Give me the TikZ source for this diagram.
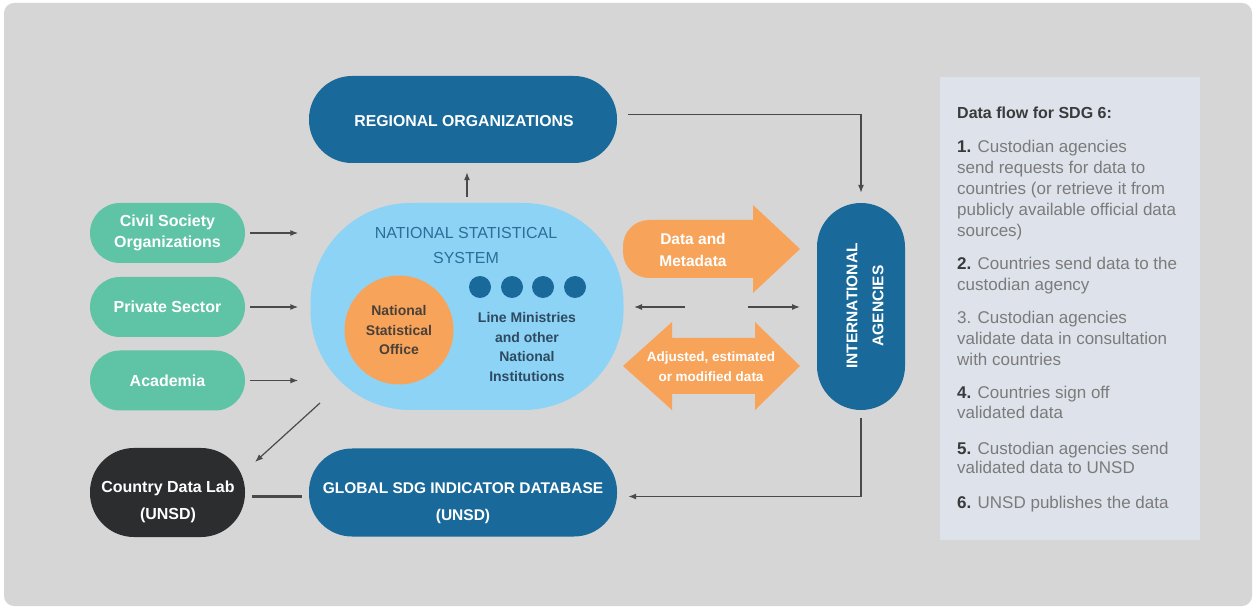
\documentclass[tikz,border=0pt]{standalone}
\usepackage{fontspec}
\setmainfont{Liberation Sans}
\usetikzlibrary{arrows.meta}
\definecolor{bgc}{HTML}{D6D6D6}
\definecolor{dblue}{HTML}{19699A}
\definecolor{sgreen}{HTML}{5FC3A6}
\definecolor{lblue}{HTML}{8DD3F5}
\definecolor{orng}{HTML}{F7A45A}
\definecolor{blk}{HTML}{2B2D2F}
\definecolor{panelc}{HTML}{DEE3EB}
\definecolor{linec}{HTML}{4A4A4A}
\definecolor{nsstext}{HTML}{2B6E9A}
\definecolor{ministext}{HTML}{2E4A60}
\definecolor{nsotext}{HTML}{4A4038}
\definecolor{ptext}{HTML}{7B7B7B}
\definecolor{pdark}{HTML}{3A3A3A}
\newcommand\numb[1]{\textbf{\color{pdark}#1}}
\begin{document}
\begin{tikzpicture}[x=1pt,y=-1pt,
 pill/.style={inner sep=0pt, text=white, align=center, font=\bfseries\fontsize{15.8}{19}\selectfont},
 arr/.style={draw=linec, line width=1.2pt, -{Latex[length=8pt,width=6pt]}},
 ptxt/.style={anchor=base west, inner sep=0pt, text=ptext, font=\fontsize{17}{20}\selectfont},
 wtxt/.style={inner sep=0pt, text=white, align=center},
]
\useasboundingbox (0,0) rectangle (1256,609);
\fill[white] (0,0) rectangle (1256,609);
\fill[bgc, rounded corners=10pt] (4,3) rectangle (1252,606);

% panel
\node[fill=panelc, minimum width=260pt, minimum height=463pt, inner sep=0pt] (pan) at (1070,308.5) {};

% top / bottom blue pills
\node[fill=dblue, rounded corners=43pt, minimum width=308pt, minimum height=87pt, inner sep=0pt] (reg) at (463,119.5) {};
\node[wtxt, font=\bfseries\fontsize{15.8}{19}\selectfont] (regt) at (464,121.5) {REGIONAL ORGANIZATIONS};
\node[fill=dblue, rounded corners=43pt, minimum width=308pt, minimum height=88pt, inner sep=0pt] (gdb) at (463,492.5) {};
\node[wtxt, font=\bfseries\fontsize{15.5}{27}\selectfont] (gdbt) at (463,503) {GLOBAL SDG INDICATOR DATABASE\\(UNSD)};

% green pills
\node[pill, fill=sgreen, rounded corners=30pt, minimum width=155pt, minimum height=60pt, font=\bfseries\fontsize{16}{21}\selectfont] (cso) at (167.5,233) {Civil Society\\Organizations};
\node[pill, fill=sgreen, rounded corners=30pt, minimum width=155pt, minimum height=60pt, font=\bfseries\fontsize{16}{21}\selectfont] (ps) at (167.5,307) {Private Sector};
\node[pill, fill=sgreen, rounded corners=30pt, minimum width=155pt, minimum height=60pt, font=\bfseries\fontsize{16}{21}\selectfont] (ac) at (167.5,380.5) {Academia};

% country data lab
\node[fill=blk, rounded corners=44pt, minimum width=155pt, minimum height=89pt, inner sep=0pt] (cdl) at (167.5,492.5) {};
\node[wtxt, font=\bfseries\fontsize{16}{27}\selectfont] (cdlt) at (168,502) {Country Data Lab\\(UNSD)};

% national statistical system
\node[fill=lblue, rounded corners=100pt, minimum width=313pt, minimum height=207pt, inner sep=0pt] (nss) at (467,306.5) {};
\node[inner sep=0pt, text=nsstext, align=center, font=\fontsize{16}{25}\selectfont] (nsst) at (466,245) {NATIONAL STATISTICAL\\SYSTEM};
\node[circle, fill=orng, minimum size=109pt, inner sep=0pt, align=center, text=nsotext, font=\bfseries\fontsize{14}{19.5}\selectfont] (nso) at (399,330) {National\\Statistical\\Office};
\foreach \i/\x in {1/480,2/512,3/543,4/575}
  \node[circle, fill=dblue, minimum size=22pt, inner sep=0pt] (dot\i) at (\x,287) {};
\node[inner sep=0pt, text=ministext, align=center, font=\bfseries\fontsize{14}{19.5}\selectfont] (lm) at (527,347) {Line Ministries\\and other\\National\\Institutions};

% international agencies
\node[fill=dblue, rounded corners=44pt, minimum width=88pt, minimum height=207pt, inner sep=0pt] (intl) at (861,306.5) {};
\node[wtxt, rotate=90, font=\bfseries\fontsize{15.5}{26}\selectfont] (intlt) at (865,306) {INTERNATIONAL\\AGENCIES};

% orange block arrows
\fill[orng] [rounded corners=26pt] (690,278) -- (623,278) -- (623,220) -- (690,220) [sharp corners] -- (753,220) -- (753,205) -- (800,249) -- (753,293) -- (753,278) -- cycle;
\node[wtxt, font=\bfseries\fontsize{15.5}{22}\selectfont] (dm) at (693,250) {Data and\\Metadata};
\fill[orng] (623,366) -- (672,322) -- (672,338) -- (755,338) -- (755,322) -- (800,366) -- (755,410) -- (755,394) -- (672,394) -- (672,410) -- cycle;
\node[wtxt, font=\bfseries\fontsize{13.5}{20}\selectfont] (adj) at (711,367) {Adjusted, estimated\\or modified data};

% connectors
\draw[arr, shorten <=6pt, shorten >=9pt] (nss.north) -- (nss.north |- reg.south);
\draw[arr, shorten <=5pt, shorten >=12pt] (cso.east) -- (cso.east -| nss.west);
\draw[arr, shorten <=5pt, shorten >=12pt] (ps.east) -- (ps.east -| nss.west);
\draw[arr, shorten <=5pt, shorten >=12pt] (ac.east) -- (ac.east -| nss.west);
\draw[arr, shorten <=11pt, shorten >=10pt] ([yshift=5pt]reg.east) -| (intl.north);
\draw[arr, shorten <=8pt, shorten >=11pt] (intl.south) |- ([yshift=-4pt]gdb.east);
\draw[draw=linec, line width=2.5pt, shorten <=7pt, shorten >=7pt] ([yshift=-4pt]cdl.east) -- ([yshift=-4pt]gdb.west);
\coordinate (dgs) at (320,403);
\coordinate (dge) at (255,462);
\draw[arr] (dgs) -- (dge);
\coordinate (la1) at (685,307);
\coordinate (la2) at (634,307);
\coordinate (ra1) at (748,307);
\coordinate (ra2) at (800,307);
\draw[arr] (la1) -- (la2);
\draw[arr] (ra1) -- (ra2);

% panel text
\node[ptxt, text=pdark, font=\bfseries\fontsize{16}{20}\selectfont] (ttl) at (957,118.5) {Data flow for SDG 6:};
\node[ptxt] (l1a) at (957,153) {\numb{1.} Custodian agencies};
\node[ptxt] (l1b) at (957,174) {send requests for data to};
\node[ptxt] (l1c) at (957,195) {countries (or retrieve it from};
\node[ptxt] (l1d) at (957,216) {publicly available official data};
\node[ptxt] (l1e) at (957,237) {sources)};
\node[ptxt] (l2a) at (957,270) {\numb{2.} Countries send data to the};
\node[ptxt] (l2b) at (957,291) {custodian agency};
\node[ptxt] (l3a) at (957,324) {3. Custodian agencies};
\node[ptxt] (l3b) at (957,345) {validate data in consultation};
\node[ptxt] (l3c) at (957,366) {with countries};
\node[ptxt] (l4a) at (957,399) {\numb{4.} Countries sign off};
\node[ptxt] (l4b) at (957,419) {validated data};
\node[ptxt] (l5a) at (957,454) {\numb{5.} Custodian agencies send};
\node[ptxt] (l5b) at (957,474) {validated data to UNSD};
\node[ptxt] (l6a) at (957,508) {\numb{6.} UNSD publishes the data};
\end{tikzpicture}
\end{document}
